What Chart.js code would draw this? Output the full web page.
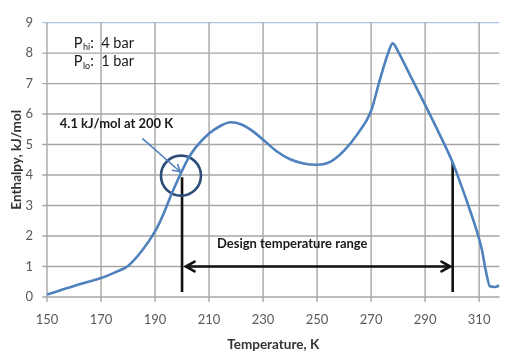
<!DOCTYPE html>
<html>
<head>
<meta charset="utf-8">
<script src="https://cdn.jsdelivr.net/npm/chart.js@4.4.1/dist/chart.umd.min.js"></script>
<style>
  html, body { margin: 0; padding: 0; background: #fff; }
  #wrap { width: 522px; height: 360px; position: relative; }
</style>
</head>
<body>
<div id="wrap"><canvas id="enthalpy-chart"></canvas></div>
<script>
// Enthalpy vs temperature
const temps = [150, 155, 160, 165, 170, 175, 180, 185, 190, 193, 196, 199, 202, 205, 210, 214, 218, 222, 226, 230, 235, 240, 245, 250, 255, 260, 265, 270, 273, 276, 278, 280, 284, 290, 295, 300, 303, 306, 309, 311, 312.5, 314, 316, 317.5]
const enthalpy = [0.08, 0.22, 0.36, 0.49, 0.62, 0.8, 1.02, 1.5, 2.15, 2.7, 3.35, 3.95, 4.5, 4.9, 5.36, 5.6, 5.73, 5.66, 5.45, 5.16, 4.78, 4.52, 4.38, 4.34, 4.44, 4.8, 5.35, 6.1, 7.05, 7.92, 8.32, 8.05, 7.35, 6.3, 5.4, 4.45, 3.75, 3.0, 2.2, 1.55, 0.85, 0.35, 0.33, 0.38]

const xTicks = [150, 170, 190, 210, 230, 250, 270, 290, 310]
const yTicks = [0, 1, 2, 3, 4, 5, 6, 7, 8, 9]
const X_MIN = 150
const X_MAX = 317.5

// design range markers (K) and where the bars end (kJ/mol)
const designLow = [{ x: 200, y: 0.16 }, { x: 200, y: 3.93 }]
const designHigh = [{ x: 300.2, y: 0.16 }, { x: 300.2, y: 4.42 }]
const rangeArrow = [{ x: 201.4, y: 1.0 }, { x: 299.3, y: 1.0 }]
const pointerArrow = [{ x: 185.3, y: 5.2 }, { x: 199.4, y: 4.1 }]
const highlight = [{ x: 199.6, y: 3.98 }]

const notes = [
  { text: '4.1 kJ/mol at 200 K', x: 175.7, y: 5.67 },
  { text: 'Design temperature range', x: 240.8, y: 1.76 },
]
const pressures = [
  { sub: 'hi', rest: ':  4 bar', x: 159.9, y: 8.32 },
  { sub: 'lo', rest: ':  1 bar', x: 159.9, y: 7.72 },
]

const FONT = 'Lato, "Open Sans", sans-serif'
const BLUE = '#4f81bd'
const GRID = '#a6a6a6'
const TOPLINE = '#a9c4e4'
// tick marks stick out ~5px past the axes (in axis units)
const TICK_K = 1.76
const TICK_E = 0.16

// grid lines as plain line datasets kept under everything else
const yTop = yTicks[yTicks.length - 1]
const gridSets = [
  ...xTicks.map(v => ({
    data: [{ x: v, y: -TICK_E }, { x: v, y: yTop }],
    borderColor: GRID,
  })),
  ...yTicks.map(v => ({
    data: [{ x: X_MIN - TICK_K, y: v }, { x: X_MAX, y: v }],
    borderColor: v === yTop ? TOPLINE : GRID,
  })),
].map(ds => Object.assign(ds, {
  showLine: true, borderWidth: 1.4, pointRadius: 0, pointHoverRadius: 0, clip: false, order: 10,
}))

function arrowHead(c, from, to, len, spread) {
  const a = Math.atan2(to.y - from.y, to.x - from.x)
  c.beginPath()
  c.moveTo(to.x - len * Math.cos(a - spread), to.y - len * Math.sin(a - spread))
  c.lineTo(to.x, to.y)
  c.lineTo(to.x - len * Math.cos(a + spread), to.y - len * Math.sin(a + spread))
  c.stroke()
}

const arrowPlugin = {
  id: 'arrows',
  afterDatasetsDraw(chart) {
    const c = chart.ctx
    chart.data.datasets.forEach((ds, i) => {
      if (!ds.arrow) return
      const pts = chart.getDatasetMeta(i).data
      const p0 = { x: pts[0].x, y: pts[0].y }
      const p1 = { x: pts[1].x, y: pts[1].y }
      c.save()
      c.strokeStyle = ds.borderColor
      c.lineWidth = ds.borderWidth
      c.lineCap = 'round'
      if (ds.arrow === 'both' || ds.arrow === 'end') arrowHead(c, p0, p1, ds.headLen, 0.5)
      if (ds.arrow === 'both') arrowHead(c, p1, p0, ds.headLen, 0.5)
      c.restore()
    })
  }
}

const notesPlugin = {
  id: 'notes',
  afterDraw(chart) {
    const c = chart.ctx
    const xs = chart.scales.x
    const ys = chart.scales.y
    c.save()
    c.fillStyle = '#1a1a1a'
    c.textBaseline = 'middle'
    c.textAlign = 'center'
    c.font = `bold 13px ${FONT}`
    notes.forEach(n => c.fillText(n.text, xs.getPixelForValue(n.x), ys.getPixelForValue(n.y)))

    c.textAlign = 'left'
    pressures.forEach(p => {
      let x = xs.getPixelForValue(p.x)
      const y = ys.getPixelForValue(p.y)
      c.font = `14.5px ${FONT}`
      c.fillText('P', x, y)
      x += c.measureText('P').width + 0.5
      c.font = `9px ${FONT}`
      c.fillText(p.sub, x, y + 4)
      x += c.measureText(p.sub).width
      c.font = `14.5px ${FONT}`
      c.fillText(p.rest, x, y)
    })
    c.restore()
  }
}

new Chart(document.getElementById('enthalpy-chart'), {
  type: 'scatter',
  data: {
    datasets: [
      {
        data: temps.map((t, i) => ({ x: t, y: enthalpy[i] })),
        showLine: true,
        borderColor: BLUE,
        borderWidth: 2.6,
        pointRadius: 0,
        cubicInterpolationMode: 'monotone',
      },
      {
        data: pointerArrow, showLine: true, borderColor: BLUE, borderWidth: 1.6,
        pointRadius: 0, arrow: 'end', headLen: 8,
      },
      {
        data: highlight, showLine: false, pointRadius: 20, pointHoverRadius: 20,
        pointBorderColor: '#2c4d75', pointBorderWidth: 2.6, pointBackgroundColor: 'rgba(0,0,0,0)',
      },
      { data: designLow, showLine: true, borderColor: '#111', borderWidth: 2.6, pointRadius: 0 },
      { data: designHigh, showLine: true, borderColor: '#111', borderWidth: 2.6, pointRadius: 0 },
      {
        data: rangeArrow, showLine: true, borderColor: '#111', borderWidth: 2.6,
        pointRadius: 0, arrow: 'both', headLen: 10,
      },
      ...gridSets,
    ]
  },
  options: {
    responsive: true,
    maintainAspectRatio: false,
    animation: false,
    layout: { padding: { top: 11, right: 0, bottom: 0, left: 0 } },
    plugins: {
      legend: { display: false },
      tooltip: { enabled: false },
    },
    scales: {
      x: {
        type: 'linear',
        min: X_MIN,
        max: X_MAX,
        afterBuildTicks: (s) => { s.ticks = xTicks.map(v => ({ value: v })) },
        afterFit: (s) => { s.height = 63 },
        grid: { color: 'rgba(0,0,0,0)', tickLength: 5, tickColor: 'rgba(0,0,0,0)' },
        border: { display: false },
        ticks: { padding: 10, color: '#595959', font: { family: FONT, size: 13 } },
        title: {
          display: true,
          text: 'Temperature, K',
          color: '#333',
          font: { family: FONT, size: 13.5, weight: 'bold' },
          padding: { top: 0, bottom: 7 },
        },
      },
      y: {
        type: 'linear',
        min: 0,
        max: 9,
        afterBuildTicks: (s) => { s.ticks = yTicks.map(v => ({ value: v })) },
        afterFit: (s) => {
          s.width = 47
          s.paddingTop = 0
          s.paddingBottom = 0
        },
        grid: { color: 'rgba(0,0,0,0)', tickLength: 5, tickColor: 'rgba(0,0,0,0)' },
        border: { display: false },
        ticks: { padding: 9, color: '#595959', font: { family: FONT, size: 13 } },
        title: {
          display: true,
          text: 'Enthalpy, kJ/mol',
          color: '#333',
          font: { family: FONT, size: 13.5, weight: 'bold' },
          padding: { top: 9, bottom: 0 },
        },
      },
    },
  },
  plugins: [arrowPlugin, notesPlugin],
})
</script>
</body>
</html>
